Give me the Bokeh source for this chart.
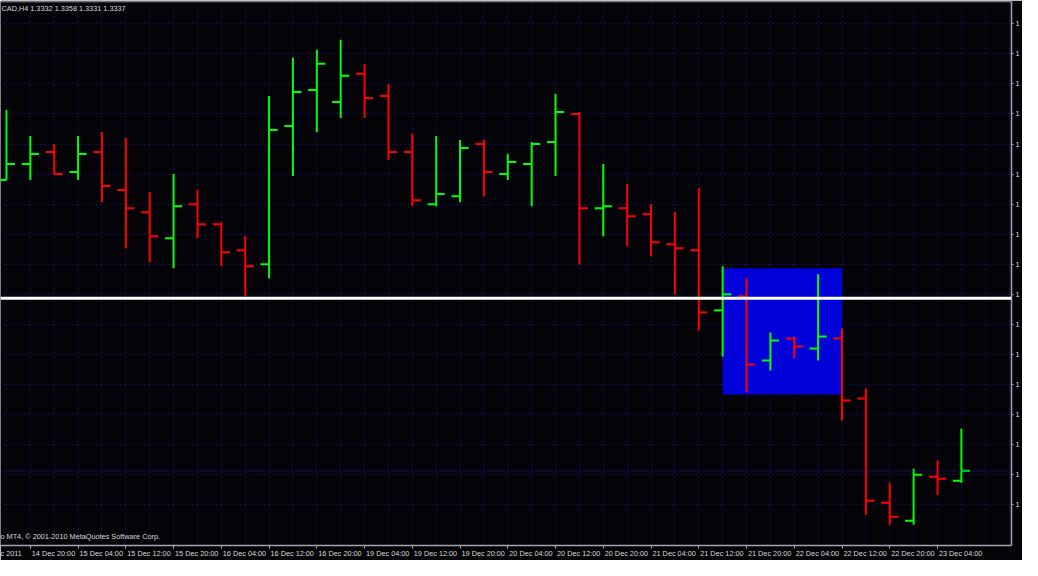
from bokeh.plotting import figure
from bokeh.models import (Range1d, LinearAxis, FixedTicker, Grid, Span, Label,
                          ColumnDataSource)
from bokeh.embed import file_html
from bokeh.resources import INLINE

# ---------------- data ----------------
symbol_text = "CAD,H4 1.3332 1.3358 1.3331 1.3337"
copyright_text = "o MT4, \u00a9 2001-2010 MetaQuotes Software Corp."

bar_index = list(range(41))   # H4 bars from 14 Dec 2011 16:00 to 23 Dec 2011 08:00

opens = [1.3482, 1.3490, 1.3496, 1.3486, 1.3496, 1.3477, 1.3466, 1.3453, 1.3470, 1.3460,
         1.3447, 1.3440, 1.3509, 1.3527, 1.3521, 1.3535, 1.3524, 1.3496, 1.3470, 1.3474,
         1.3500, 1.3485, 1.3490, 1.3501, 1.3515, 1.3468, 1.3468, 1.3465, 1.3450, 1.3447,
         1.3417, 1.3424, 1.3392, 1.3403, 1.3398, 1.3403, 1.3373, 1.3321, 1.3312, 1.3334,
         1.3332]
highs = [1.3517, 1.3504, 1.3500, 1.3504, 1.3506, 1.3503, 1.3476, 1.3485, 1.3477, 1.3461,
         1.3454, 1.3524, 1.3543, 1.3547, 1.3552, 1.3540, 1.3530, 1.3505, 1.3504, 1.3502,
         1.3502, 1.3495, 1.3501, 1.3525, 1.3516, 1.3490, 1.3480, 1.3470, 1.3466, 1.3478,
         1.3439, 1.3433, 1.3406, 1.3404, 1.3435, 1.3408, 1.3378, 1.3331, 1.3338, 1.3342,
         1.3358]
lows = [1.3482, 1.3482, 1.3485, 1.3482, 1.3471, 1.3448, 1.3441, 1.3438, 1.3453, 1.3439,
        1.3424, 1.3433, 1.3484, 1.3506, 1.3513, 1.3513, 1.3492, 1.3469, 1.3469, 1.3471,
        1.3474, 1.3482, 1.3469, 1.3484, 1.3440, 1.3454, 1.3449, 1.3444, 1.3425, 1.3407,
        1.3394, 1.3376, 1.3387, 1.3393, 1.3392, 1.3362, 1.3315, 1.3310, 1.3310, 1.3325,
        1.3331]
closes = [1.3490, 1.3495, 1.3485, 1.3495, 1.3479, 1.3468, 1.3454, 1.3469, 1.3460, 1.3446,
          1.3439, 1.3507, 1.3526, 1.3540, 1.3534, 1.3523, 1.3496, 1.3472, 1.3475, 1.3498,
          1.3486, 1.3491, 1.3500, 1.3516, 1.3468, 1.3469, 1.3464, 1.3451, 1.3448, 1.3416,
          1.3425, 1.3390, 1.3402, 1.3399, 1.3404, 1.3372, 1.3322, 1.3314, 1.3335, 1.3333,
          1.3337]

# time labels (the first is the visible tail of the cut-off "14 Dec 2011")
time_tick_bars = [-1, 1, 3, 5, 7, 9, 11, 13, 15, 17, 19, 21, 23, 25, 27, 29, 31, 33, 35, 37, 39]
time_tick_labels = ["c 2011", "14 Dec 20:00", "15 Dec 04:00", "15 Dec 12:00",
                    "15 Dec 20:00", "16 Dec 04:00", "16 Dec 12:00", "16 Dec 20:00",
                    "19 Dec 04:00", "19 Dec 12:00", "19 Dec 20:00", "20 Dec 04:00",
                    "20 Dec 12:00", "20 Dec 20:00", "21 Dec 04:00", "21 Dec 12:00",
                    "21 Dec 20:00", "22 Dec 04:00", "22 Dec 12:00", "22 Dec 20:00",
                    "23 Dec 04:00"]

price_ticks = [1.3320, 1.3335, 1.3350, 1.3365, 1.3380, 1.3395, 1.3410, 1.3425, 1.3440,
               1.3455, 1.3470, 1.3485, 1.3500, 1.3515, 1.3530, 1.3545, 1.3560]
price_tick_label = "1"          # price labels are cut off at the window edge

hline_price = 1.3423            # white horizontal line
bid_price = 1.3337              # current price line
rect_bars = [30, 35]            # blue rectangle, time extent (bar index)
rect_prices = [1.3375, 1.3438]  # blue rectangle, price extent

# ---------------- style ----------------
BG = "#040408"
GRID = "#1a1aa0"
AXIS = "#a4a4b0"
TXT = "#d8d8d8"
UP = "#00ff00"
DOWN = "#ff0000"
FONT = "Liberation Sans"
FS = "7.3px"
TICK_HALF = 0.36
LABEL_SHIFT = 0.97

x_start, x_end = -0.25, 42.1
y_start, y_end = 1.32997, 1.35711

p = figure(width=1022, height=560, output_backend="svg", toolbar_location=None,
           x_range=Range1d(x_start, x_end), y_range=Range1d(y_start, y_end),
           x_axis_location=None, y_axis_location=None,
           background_fill_color=BG, border_fill_color=BG,
           min_border=0, min_border_top=1, outline_line_color=None)

# remove any default grids
p.center = [r for r in p.center if not isinstance(r, Grid)]

# grids
xgrid = Grid(dimension=0, ticker=FixedTicker(ticks=list(range(0, 43))),
             grid_line_color=GRID, grid_line_dash="1 3", grid_line_width=1)
ygrid = Grid(dimension=1, ticker=FixedTicker(ticks=price_ticks),
             grid_line_color=GRID, grid_line_dash="1 3", grid_line_width=1)
p.add_layout(xgrid)
p.add_layout(ygrid)

# right price axis
yaxis = LinearAxis(ticker=FixedTicker(ticks=price_ticks),
                   major_label_overrides={t: price_tick_label for t in price_ticks},
                   axis_line_color=AXIS, axis_line_width=1.5,
                   major_tick_line_color=AXIS, major_tick_in=0, major_tick_out=2,
                   minor_tick_line_color=None,
                   major_label_text_color=TXT, major_label_text_font=FONT,
                   major_label_text_font_size=FS, major_label_standoff=2)
p.add_layout(yaxis, "right")

# bottom time axis: minor ticks mark the bars, labels sit just right of them
label_ticks = [b + LABEL_SHIFT for b in time_tick_bars]
xaxis = LinearAxis(ticker=FixedTicker(ticks=label_ticks, minor_ticks=time_tick_bars),
                   major_label_overrides={t: s for t, s in zip(label_ticks, time_tick_labels)},
                   axis_line_color=AXIS, axis_line_width=1.5,
                   major_tick_line_color=None, major_tick_in=0, major_tick_out=3,
                   minor_tick_line_color=AXIS, minor_tick_in=0, minor_tick_out=3,
                   major_label_text_color=TXT, major_label_text_font=FONT,
                   major_label_text_font_size=FS, major_label_standoff=0)
p.add_layout(xaxis, "below")

# blue rectangle (background object)
p.quad(left=[rect_bars[0]], right=[rect_bars[1]], bottom=[rect_prices[0]], top=[rect_prices[1]],
       fill_color="#0000d8", line_color=None)

# OHLC bars
colors = [UP if c >= o else DOWN for o, c in zip(opens, closes)]
src = ColumnDataSource(dict(
    x=bar_index, open=opens, high=highs, low=lows, close=closes, color=colors,
    xo=[i - TICK_HALF for i in bar_index], xc=[i + TICK_HALF for i in bar_index]))
p.segment(x0="x", y0="low", x1="x", y1="high", line_color="color", line_width=2, source=src)
p.segment(x0="xo", y0="open", x1="x", y1="open", line_color="color", line_width=2, source=src)
p.segment(x0="x", y0="close", x1="xc", y1="close", line_color="color", line_width=2, source=src)

# horizontal lines
p.add_layout(Span(location=bid_price, dimension="width", line_color="#2323c8",
                  line_dash="1 2", line_width=1))
p.add_layout(Span(location=hline_price, dimension="width", line_color="#ffffff", line_width=3))
p.add_layout(Span(location=y_end, dimension="width", line_color=AXIS, line_width=1.5))

# price boxes on the axis
for pr in (hline_price, bid_price):
    p.add_layout(Label(x=x_end, y=pr, text=price_tick_label, x_offset=1,
                       text_align="left", text_baseline="middle",
                       text_color="#000000", text_font=FONT, text_font_size=FS,
                       background_fill_color="#ffffff", border_line_color="#c0c0c0",
                       padding=1))

# texts
p.add_layout(Label(x=x_start, y=y_end - 0.00013, text=symbol_text, x_offset=1,
                   text_align="left", text_baseline="top", text_color=TXT,
                   text_font=FONT, text_font_size=FS))
p.add_layout(Label(x=x_start, y=y_start + 0.0002, text=copyright_text, x_offset=0,
                   text_align="left", text_baseline="bottom", text_color=TXT,
                   text_font=FONT, text_font_size=FS))

open("out.html", "w").write(file_html(p, INLINE))
